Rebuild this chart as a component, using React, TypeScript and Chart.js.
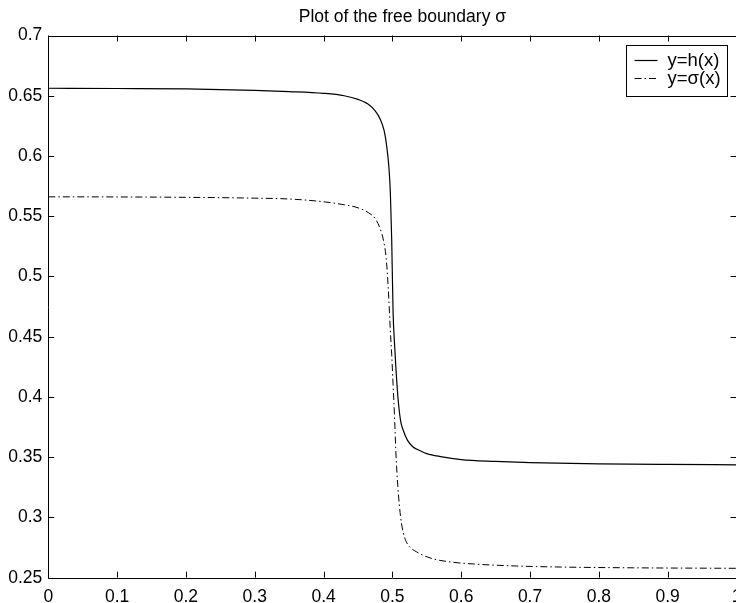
import React, { useEffect, useRef } from "react";
import { Chart, registerables } from "chart.js";

Chart.register(...registerables);

// Free boundary h(x) and sigma(x), sampled along x in [0, 1]
const hX = [0, 0.1, 0.2, 0.3, 0.35, 0.4, 0.43, 0.45, 0.465, 0.475, 0.482, 0.488, 0.492, 0.495, 0.497, 0.499, 0.501, 0.503, 0.505, 0.508, 0.512, 0.516, 0.522, 0.53, 0.54, 0.55, 0.57, 0.6, 0.65, 0.7, 0.8, 0.9, 1.0];
const hY = [0.6562, 0.656, 0.6557, 0.6545, 0.6535, 0.652, 0.65, 0.647, 0.643, 0.6375, 0.631, 0.621, 0.607, 0.59, 0.57, 0.53, 0.47, 0.445, 0.425, 0.4, 0.38, 0.372, 0.364, 0.3585, 0.3555, 0.353, 0.3505, 0.348, 0.3465, 0.3455, 0.3445, 0.344, 0.3437];

const sX = [0, 0.1, 0.2, 0.3, 0.35, 0.4, 0.43, 0.45, 0.465, 0.475, 0.482, 0.487, 0.491, 0.494, 0.497, 0.499, 0.501, 0.503, 0.505, 0.508, 0.512, 0.516, 0.52, 0.526, 0.535, 0.545, 0.56, 0.585, 0.62, 0.68, 0.75, 0.85, 1.0];
const sY = [0.5661, 0.566, 0.5657, 0.565, 0.5643, 0.562, 0.5595, 0.557, 0.553, 0.548, 0.54, 0.53, 0.515, 0.49, 0.455, 0.435, 0.41, 0.385, 0.355, 0.325, 0.3, 0.287, 0.28, 0.275, 0.2715, 0.2685, 0.2655, 0.263, 0.2613, 0.2597, 0.2588, 0.2582, 0.2578];

const seriesLabels = ["y=h(x)", "y=\u03c3(x)"];
const xTickLabels = ["0", "0.1", "0.2", "0.3", "0.4", "0.5", "0.6", "0.7", "0.8", "0.9", "1"];
const yTickLabels = ["0.25", "0.3", "0.35", "0.4", "0.45", "0.5", "0.55", "0.6", "0.65", "0.7"];
const titleText = "Plot of the free boundary \u03c3";

const FONT = "'Liberation Sans', Arial, Helvetica, sans-serif";

// Title over the plot area, box around it, inward ticks on all four sides and a boxed legend
const framePlugin = {
  id: "frameAndLegend",
  afterDraw(chart: any) {
    const { ctx, chartArea: a, scales } = chart;
    const xs = scales.x;
    const ys = scales.y;
    const tl = 6;
    ctx.save();

    ctx.fillStyle = "#000";
    ctx.font = `17.5px ${FONT}`;
    ctx.textAlign = "center";
    ctx.textBaseline = "alphabetic";
    ctx.fillText(titleText, (a.left + a.right) / 2 + 10, 22);

    ctx.strokeStyle = "#000";
    ctx.lineWidth = 1;
    ctx.beginPath();
    ctx.rect(Math.round(a.left) + 0.5, Math.round(a.top) + 0.5, Math.round(a.right - a.left), Math.round(a.bottom - a.top));
    ctx.stroke();
    ctx.beginPath();
    xs.ticks.forEach((t: any) => {
      const px = Math.round(xs.getPixelForValue(t.value)) + 0.5;
      ctx.moveTo(px, a.bottom);
      ctx.lineTo(px, a.bottom - tl);
      ctx.moveTo(px, a.top);
      ctx.lineTo(px, a.top + tl);
    });
    ys.ticks.forEach((t: any) => {
      const py = Math.round(ys.getPixelForValue(t.value)) + 0.5;
      ctx.moveTo(a.left, py);
      ctx.lineTo(a.left + tl, py);
      ctx.moveTo(a.right, py);
      ctx.lineTo(a.right - tl, py);
    });
    ctx.stroke();

    // legend
    const bx = 626.5, by = 45.5, bw = 101, bh = 51;
    ctx.fillStyle = "#fff";
    ctx.fillRect(bx, by, bw, bh);
    ctx.strokeRect(bx, by, bw, bh);
    ctx.font = `18.5px ${FONT}`;
    ctx.textBaseline = "middle";
    ctx.textAlign = "left";
    chart.data.datasets.forEach((ds: any, i: number) => {
      const cy = Math.round(by + 14 + i * 18) + 0.5;
      ctx.save();
      ctx.strokeStyle = ds.borderColor;
      ctx.lineWidth = ds.borderWidth;
      ctx.setLineDash(ds.borderDash || []);
      ctx.beginPath();
      ctx.moveTo(bx + 8, cy);
      ctx.lineTo(bx + 31, cy);
      ctx.stroke();
      ctx.restore();
      ctx.fillStyle = "#000";
      ctx.fillText(ds.label, bx + 41, cy);
    });
    ctx.restore();
  },
};

export default function App() {
  const ref = useRef<HTMLCanvasElement | null>(null);

  useEffect(() => {
    document.body.style.margin = "0";
    document.body.style.overflow = "hidden";
    const canvas = ref.current;
    if (!canvas) return;
    const chart = new Chart(canvas, {
      type: "scatter",
      data: {
        datasets: [
          {
            label: seriesLabels[0],
            data: hX.map((x, i) => ({ x, y: hY[i] })),
            showLine: true,
            borderColor: "#000",
            borderWidth: 1.2,
            pointRadius: 0,
            cubicInterpolationMode: "monotone",
          },
          {
            label: seriesLabels[1],
            data: sX.map((x, i) => ({ x, y: sY[i] })),
            showLine: true,
            borderColor: "#000",
            borderWidth: 1,
            borderDash: [7, 3, 1.5, 3],
            pointRadius: 0,
            cubicInterpolationMode: "monotone",
          },
        ],
      },
      options: {
        responsive: false,
        animation: false,
        devicePixelRatio: 1,
        layout: { padding: { left: 0, right: 5.5, top: 35.5, bottom: 0 } },
        plugins: {
          legend: { display: false },
          tooltip: { enabled: false },
          title: { display: false },
        },
        scales: {
          x: {
            type: "linear",
            min: 0,
            max: 1,
            grid: { display: false, drawTicks: false },
            border: { display: false },
            ticks: {
              stepSize: 0.1,
              color: "#000",
              padding: 9,
              maxRotation: 0,
              autoSkip: false,
              font: { family: FONT, size: 17.5 },
              callback: (v: any) => xTickLabels[Math.round(Number(v) * 10)],
            },
            afterFit: (s: any) => {
              s.height = 25.3;
              s.paddingLeft = 0;
              s.paddingRight = 0;
            },
          },
          y: {
            type: "linear",
            min: 0.25,
            max: 0.7,
            grid: { display: false, drawTicks: false },
            border: { display: false },
            ticks: {
              stepSize: 0.05,
              color: "#000",
              padding: 6,
              autoSkip: false,
              font: { family: FONT, size: 17.5 },
              callback: (v: any) => yTickLabels[Math.round((Number(v) - 0.25) * 20)],
            },
            afterFit: (s: any) => {
              s.width = 48.3;
              s.paddingTop = 0;
              s.paddingBottom = 0;
            },
          },
        },
      },
      plugins: [framePlugin],
    });
    return () => chart.destroy();
  }, []);

  return (
    <div style={{ position: "fixed", left: 0, top: 0, width: 736, height: 603, overflow: "hidden", background: "#fff" }}>
      <canvas ref={ref} width={742} height={603} style={{ display: "block" }} />
    </div>
  );
}
